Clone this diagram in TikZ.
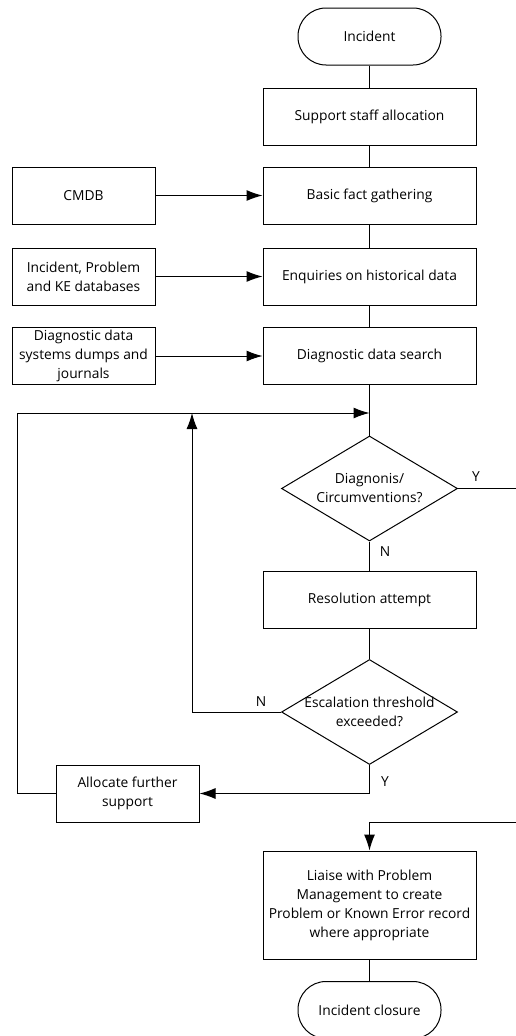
\documentclass[tikz,border=0pt]{standalone}
\usepackage{fontspec}
\setmainfont{Open Sans}
\usetikzlibrary{shapes.geometric,arrows.meta}

\begin{document}
\begin{tikzpicture}[x=1pt,y=-1pt,line width=1pt,
  font=\fontsize{13.8}{19}\selectfont,
  procbox/.style={draw, minimum width=213pt, minimum height=57pt, align=center, inner sep=2pt},
  srcbox/.style={draw, minimum width=143pt, minimum height=57pt, align=center, inner sep=2pt},
  termbox/.style={draw, rounded corners=28pt, minimum width=143pt, minimum height=57pt},
  decision/.style={draw, diamond, minimum width=176pt, minimum height=105pt, inner sep=0pt, aspect=1.676},
  flow/.style={-{Latex[length=16pt,width=11pt]}},
  yn/.style={inner sep=1pt}]
\useasboundingbox (0,0) rectangle (515,1036);

% main column
\node[termbox] (inc) at (369.5,36.5) {Incident};
\node[procbox] (staff) at (369.5,116.5) {Support staff allocation};
\node[procbox] (fact) at (369.5,195.5) {Basic fact gathering};
\node[procbox] (enq) at (369.5,276.5) {Enquiries on historical data};
\node[procbox] (diag) at (369.5,356) {Diagnostic data search};

% data sources
\node[srcbox] (cmdb) at (83.5,195.5) {CMDB};
\node[srcbox] (kedb) at (83.5,276.5) {Incident, Problem\\and KE databases};
\node[srcbox] (dumps) at (83.5,356) {Diagnostic data\\systems dumps and\\journals};

% decisions
\node[decision, label={[align=center]center:Diagnonis/\\Circumventions?}] (d1) at (369.5,488.5) {};
\node[procbox] (res) at (369.5,600) {Resolution attempt};
\node[decision, label={[align=center]center:Escalation threshold\\exceeded?}] (d2) at (369.5,712) {};
\node[srcbox] (alloc) at (127.5,793.5) {Allocate further\\support};

\node[procbox, minimum height=108pt] (liaise) at (369.5,905) {Liaise with Problem\\Management to create\\Problem or Known Error record\\where appropriate};
\node[termbox] (close) at (369.5,1010) {Incident closure};

\coordinate (merge) at (369.5,413);
\coordinate (nloop) at (192,413);
\coordinate (yloop) at (17,413);
\coordinate (yturn) at (520,822);

\draw (inc) -- (staff);
\draw (staff) -- (fact);
\draw (fact) -- (enq);
\draw (enq) -- (diag);
\draw (diag) -- (d1);
\draw (d1) -- (res);
\draw (res) -- (d2);
\draw (liaise) -- (close);

\draw[flow] (cmdb) -- (fact);
\draw[flow] (kedb) -- (enq);
\draw[flow] (dumps) -- (diag);

\draw[flow] (d2.west) -| (nloop);
\draw[flow] (d2.south) |- (alloc.east);
\draw[flow] (alloc.west) -| (yloop) -- (merge);
\draw[flow] (d1.east) -| (yturn) -| (liaise.north);

\node[yn] (y1) at (476,477) {Y};
\node[yn] (n1) at (385,552) {N};
\node[yn] (n2) at (261,702) {N};
\node[yn] (y2) at (385,782) {Y};
\end{tikzpicture}
\end{document}
